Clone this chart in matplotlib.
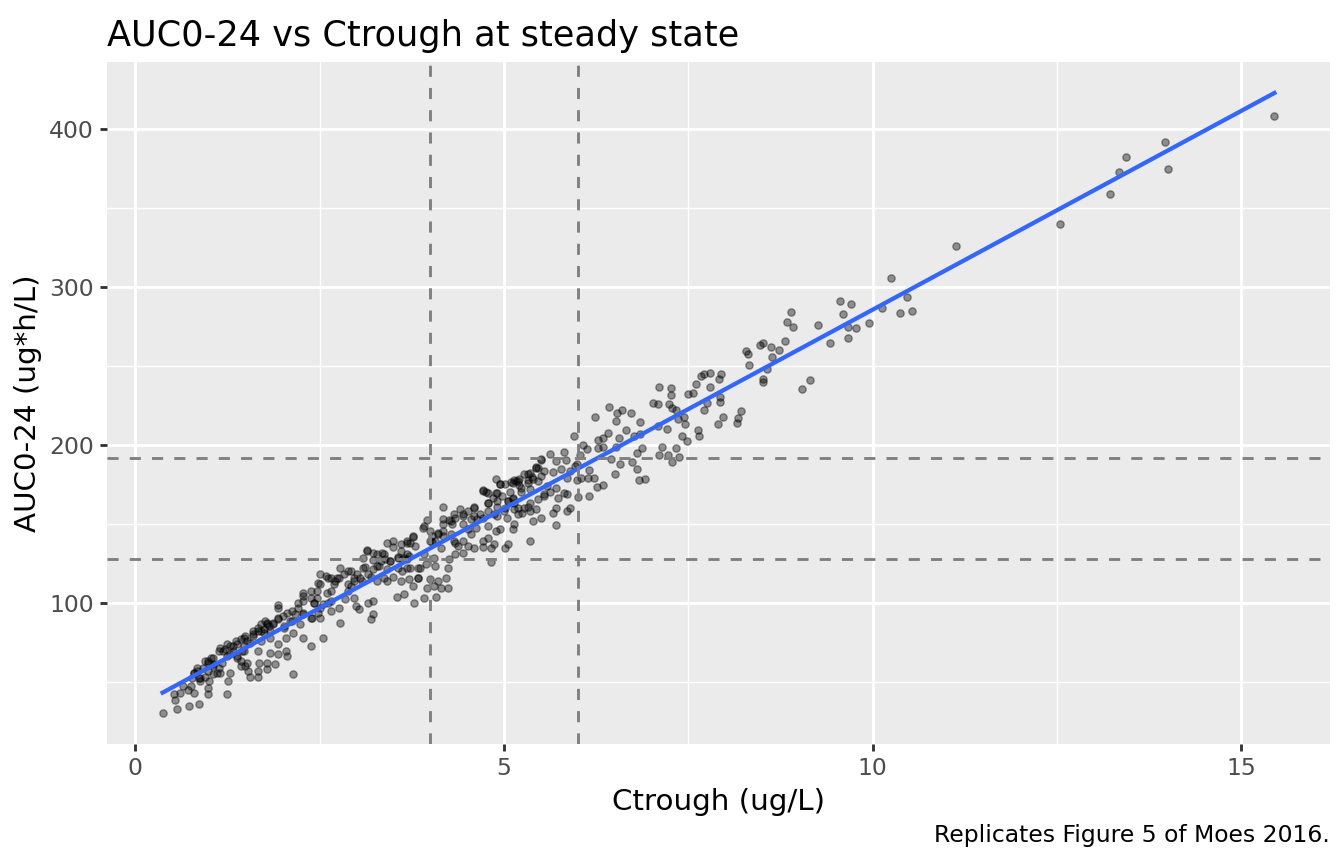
import matplotlib
matplotlib.use('Agg')
import matplotlib.pyplot as plt
import numpy as np

# steady-state trough concentration (ug/L)
ctrough = [
    # sparse high end
    15.45, 13.97, 14.01, 13.44, 13.34, 13.22, 12.54, 11.13, 10.25, 10.47,
    10.53, 10.37, 10.13, 9.95, 9.77, 9.66, 9.66, 9.56, 9.71, 9.60,
    9.42, 9.26, 9.15, 9.04, 8.89, 8.84, 8.92, 8.81, 8.73, 8.62,
    8.63, 8.52, 8.47, 8.28, 8.31, 8.33, 8.57, 8.51, 8.52, 8.21,
    # 6 - 8
    7.67, 7.71, 7.80, 7.95, 7.91, 7.60, 7.79, 7.10, 7.26, 7.26,
    7.49, 7.57, 7.93, 7.93, 7.76, 7.02, 7.09, 7.24, 7.28, 7.33,
    7.72, 7.97, 8.17, 8.16, 7.90, 6.43, 6.53, 6.60, 6.72, 6.24,
    6.52, 6.84, 7.36, 7.44, 7.45, 7.09, 7.21, 6.65, 6.41, 6.76,
    6.84, 6.56, 6.35, 6.27, 7.63, 7.64, 7.42, 7.48, 5.95, 6.12,
    6.27, 6.35, 6.52, 6.87, 6.81, 7.15, 7.34, 7.10, 7.23, 7.37,
    7.28, 6.73, 6.58, 6.81, 6.45, 6.50, 6.83, 6.91, 6.35, 6.26,
    6.15, 6.00, 5.82, 5.84, 6.03, 5.97, 5.90, 6.16, 6.22, 6.04,
    5.86, 5.99, 5.81, 5.85,
    # 4 - 6
    6.07, 5.62, 5.71, 5.50, 5.44, 5.54, 5.67, 5.78, 5.99, 6.14,
    5.32, 5.38, 5.46, 5.32, 5.19, 5.14, 5.20, 5.09, 4.89, 4.95,
    5.08, 5.23, 5.36, 5.58, 5.71, 5.62, 5.73, 5.54, 5.90, 5.71,
    5.85, 5.66, 5.70, 4.71, 4.76, 4.90, 4.97, 5.05, 5.12, 5.14,
    4.85, 4.78, 4.90, 5.02, 5.19, 5.24, 5.32, 5.36, 5.44, 5.50,
    5.39, 5.19, 5.04, 4.91, 5.14, 5.12, 4.95, 4.89, 4.78, 4.86,
    5.05, 5.02, 5.35, 4.79, 4.59, 4.78, 4.68, 4.64, 4.55, 4.45,
    4.41, 4.32, 4.18, 4.17, 4.25, 4.30, 4.44, 4.51, 4.62, 4.55,
    4.28, 4.18, 4.10, 4.45, 4.34, 4.06, 4.02, 4.82, 4.72, 5.43,
    4.83,
    # 2.7 - 4.7
    3.96, 3.91, 4.00, 4.02, 3.77, 3.73, 3.79, 3.68, 3.49, 3.49,
    3.61, 3.68, 3.56, 3.62, 3.69, 3.35, 3.23, 3.14, 3.09, 3.23,
    3.38, 3.46, 3.09, 3.30, 3.42, 3.56, 3.73, 3.71, 3.62, 3.50,
    3.37, 3.28, 3.19, 3.08, 2.96, 2.88, 2.83, 2.74, 2.69, 2.92,
    3.77, 3.84, 3.94, 3.86, 4.07, 4.00, 4.10, 4.05, 4.24, 4.21,
    4.25, 4.24, 4.14, 3.96, 4.34, 4.45, 4.51, 4.37, 4.32, 4.59,
    4.72, 3.78, 3.92, 4.08, 3.65, 3.55,
    # 1.3 - 3.4
    3.14, 3.28, 3.11, 3.01, 2.59, 2.48, 2.38, 2.47, 2.60, 2.65,
    2.54, 2.42, 2.27, 2.20, 2.28, 2.40, 2.51, 2.65, 2.76, 2.85,
    2.99, 3.03, 3.15, 3.23, 3.22, 3.19, 2.77, 2.54, 2.38, 2.27,
    2.14, 2.04, 2.01, 2.10, 1.87, 1.76, 1.70, 1.83, 1.93, 1.59,
    1.47, 1.36, 1.94, 2.06, 2.17, 3.42, 2.14, 2.65, 2.78, 2.51,
    # low end
    0.37, 0.57, 0.73, 0.86, 0.54, 0.52, 0.61, 0.71, 0.79, 0.75,
    0.65, 0.98, 0.99, 1.24, 0.88, 0.79, 0.86, 0.95, 1.05, 1.11,
    1.00, 0.98, 1.06, 1.18, 1.26, 1.28, 1.19, 1.29, 1.13, 1.33,
    1.38, 1.47, 1.52, 1.43, 1.53, 1.55, 1.60, 1.67, 1.68, 1.66,
    1.78, 1.67, 1.79, 1.90, 1.83, 1.93, 2.04, 2.06, 1.66, 1.79,
    1.93, 1.83, 2.01, 1.94, 1.25, 1.15, 1.02, 1.05, 0.84,
    # dense core, second pass
    1.70, 1.79, 1.66, 1.60, 1.49, 1.52, 1.43, 1.38, 1.29, 1.32,
    1.22, 1.25, 1.06, 0.99, 0.95, 0.92, 0.84, 0.79, 0.77, 1.47,
    1.56, 1.45, 1.43, 1.49, 1.38, 1.74, 1.70, 1.13, 1.15, 0.98,
    0.88,
    2.92, 2.76, 2.71, 2.61, 2.51, 2.47, 2.38, 2.28, 2.21, 2.13,
    2.00, 1.93, 1.87, 1.81, 1.74, 2.42, 2.51, 2.62, 2.28, 2.38,
    2.24, 2.13, 2.48, 2.88, 2.96, 2.65, 2.28,
    3.90, 4.00, 3.77, 3.69, 3.60, 3.56, 3.64, 3.71, 3.46, 3.37,
    3.33, 3.28, 3.22, 3.15, 3.05, 2.96, 2.88, 3.83, 3.91, 4.05,
    4.14, 4.10, 4.18, 3.69, 3.60, 3.42, 3.83,
    5.50, 5.46, 5.36, 5.27, 5.16, 5.20, 5.12, 5.02, 4.95, 4.89,
    4.78, 4.71, 4.79, 4.91, 5.05, 5.12, 5.23, 5.32, 5.40, 5.50,
    4.59, 4.51, 4.44, 4.34, 4.28, 4.18, 4.59, 4.72, 4.86, 5.00,
    5.13, 5.27, 5.36, 5.46, 5.54,
]

# AUC over 0-24 h (ug*h/L), same order as ctrough
auc = [
    408, 392, 375, 382, 373, 359, 340, 326, 306, 294,
    285, 283.5, 287, 277, 274, 275, 268, 291, 289, 283,
    264.5, 276, 241, 235.5, 284, 278, 275, 266, 260, 262,
    256, 264.5, 263, 259.5, 257.6, 250.6, 248, 242, 240, 221.5,
    243.7, 245, 245.6, 245, 241.8, 238.6, 236.7, 236.7, 236, 231.6,
    232, 233, 230.4, 227, 226.6, 226.6, 226, 226, 223.4, 222,
    222, 217.7, 217, 214, 213, 224, 220, 222, 220, 217.7,
    215, 214.6, 216.5, 217.7, 213, 212, 210, 209.5, 207.6, 205.7,
    207, 204.4, 204.4, 203, 209.5, 205.7, 205.7, 202.5, 206, 197.5,
    198, 198.7, 198.7, 198, 195, 198.7, 198, 194, 193.7, 192.4,
    189, 189, 188, 185, 191, 181.6, 178, 178.5, 175, 173.4,
    168, 167, 195.6, 190.5, 193.7, 186.7, 183.5, 184, 179, 179,
    179, 178, 169.6, 169,
    200, 194.3, 190, 190.5, 186, 183.5, 183, 184.8, 188, 179,
    181.6, 180, 177, 178, 177, 178, 174.7, 176.6, 178.5, 175.3,
    170, 170, 172, 174, 172.8, 170, 166.5, 169, 160, 160,
    158, 157, 149.4, 171.5, 170, 169.6, 168, 164.6, 165.8, 163.3,
    166.5, 163.3, 160.8, 160, 160, 157, 160.8, 158.2, 159.5, 153.8,
    152, 156.3, 153.8, 155, 150, 146.8, 146.8, 145.6, 141, 137.3,
    137.3, 134.8, 139, 148.7, 161, 158, 156.3, 153, 153, 155,
    159.5, 156.3, 160.8, 153, 152.5, 150, 150, 146.8, 147.5, 143.7,
    143.7, 142.4, 144.3, 139, 138, 139, 142.4, 134.8, 135.4, 185.5,
    126,
    152.5, 148.7, 145.6, 138.6, 141.8, 138, 136, 138, 139, 135.4,
    133, 131, 129, 127.8, 127.8, 131.6, 131.6, 133, 128.5, 127,
    127.8, 126.6, 122, 123.4, 121.5, 122, 122, 115, 120, 116.5,
    115.8, 114, 116.5, 114, 115.8, 120, 118.4, 115.8, 112, 110.8,
    110.8, 115.8, 124.7, 122, 123.4, 115, 114, 110.8, 122, 115.8,
    127.8, 109.5, 109.5, 109.5, 131, 131.6, 136, 136, 139, 134.8,
    139, 100, 103, 104, 106, 104,
    133.5, 131, 122.8, 118.4, 117, 112.7, 107.6, 103.2, 106.3, 101.3,
    99.4, 100, 101.3, 96.8, 93.7, 90.5, 90.5, 95, 96.8, 102.5,
    98, 96.2, 100, 101.3, 93, 89.9, 87.3, 77.8, 72.8, 77.8,
    81, 77.8, 85.4, 88.6, 86.7, 88.6, 82.3, 77.8, 74, 82.3,
    77.8, 76, 96.8, 93.7, 93, 138, 55, 115.8, 122, 118.4,
    30.4, 33, 34.8, 36, 38.6, 42.4, 43, 45, 43, 47.5,
    47.5, 42.4, 46.2, 42.4, 50.6, 55.7, 52.5, 53, 55, 55.7,
    50.6, 63.3, 61.4, 62, 50.6, 55.7, 69.6, 67.7, 69.6, 72.8,
    66.5, 69.6, 62, 60, 57, 53, 80.4, 69.6, 62, 57,
    58, 53, 62, 61.4, 68.4, 67.7, 69.6, 66.5, 84.2, 86.7,
    90.5, 82.3, 84.2, 98.7, 74, 71.5, 65, 60, 58.9,
    86.7, 87.3, 82, 79, 79, 76, 77, 74, 72.8, 69.6,
    71, 66.5, 65, 62, 63.3, 58.9, 57, 55.7, 52.5, 72.8,
    74.7, 69.6, 63.3, 60, 65, 81, 76, 58.9, 55.7, 57,
    52.5,
    120, 115.8, 114, 115.8, 112, 107.6, 103.2, 104.4, 100, 95,
    91.8, 89.9, 87.3, 85.4, 83.5, 100, 96.8, 100, 93, 90.5,
    86.7, 88.6, 93.7, 107.6, 103.2, 107.6, 106.3,
    147.5, 139, 142.4, 139, 137.3, 128.5, 128.5, 129.7, 126.6, 131,
    126.6, 123.4, 121.5, 118.4, 115.8, 114, 112, 122, 131, 128.5,
    134.8, 143.7, 145.6, 122, 114, 114, 115.8,
    191, 185.5, 182.3, 181.6, 177.2, 178.5, 176, 175.3, 175.3, 169.6,
    169.6, 171, 163.3, 164.6, 164.6, 166.5, 172.8, 176, 178.5, 180.4,
    160, 158.2, 156.3, 153.8, 152, 150, 155, 153.8, 156.3, 158.2,
    159.5, 160, 163.3, 165.8, 167.7,
]

ctrough_targets = [4, 6]
auc_targets = [128, 192]
x_ticks = [0, 5, 10, 15]
y_ticks = [100, 200, 300, 400]

x = np.array(ctrough)
y = np.array(auc)

# linear fit, like geom_smooth(method = "lm", se = FALSE)
slope, intercept = np.polyfit(x, y, 1)
x_fit = np.linspace(x.min(), x.max(), 80)
y_fit = intercept + slope * x_fit


def expand(lo, hi, frac=0.05):
    pad = (hi - lo) * frac
    return lo - pad, hi + pad


fig = plt.figure(figsize=(7, 4.5), dpi=192)
ax = fig.add_axes([107 / 1344, 1 - 744 / 864, (1330 - 107) / 1344, (744 - 62) / 864])
ax.set_facecolor('#EBEBEB')
for s in ax.spines.values():
    s.set_visible(False)

ax.set_xlim(*expand(x.min(), x.max()))
ax.set_ylim(*expand(min(y.min(), y_fit.min()), max(y.max(), y_fit.max())))

ax.set_xticks(x_ticks)
ax.set_yticks(y_ticks)
ax.set_xticks([2.5, 7.5, 12.5], minor=True)
ax.set_yticks([50, 150, 250, 350], minor=True)
ax.set_axisbelow(True)
ax.grid(which='major', color='white', lw=1.07)
ax.grid(which='minor', color='white', lw=0.53)
ax.tick_params(which='major', length=2.75, width=1.07, color='#333333',
               labelcolor='#4D4D4D', labelsize=8.8, pad=2.2)
ax.tick_params(which='minor', length=0)

ax.scatter(x, y, s=7.5, c='black', alpha=0.4, edgecolors='black',
           linewidths=0.5, zorder=2)
ax.plot(x_fit, y_fit, color='#3366FF', lw=1.6, zorder=3)

for v in ctrough_targets:
    ax.axvline(v, color='#7F7F7F', lw=1.07, dashes=(3.9, 3.9), zorder=4)
for h in auc_targets:
    ax.axhline(h, color='#7F7F7F', lw=1.07, dashes=(3.9, 3.9), zorder=4)

ax.set_xlabel('Ctrough (ug/L)', fontsize=11, labelpad=2.75)
ax.set_ylabel('AUC0-24 (ug*h/L)', fontsize=11, labelpad=2.75)
ax.set_title('AUC0-24 vs Ctrough at steady state', loc='left',
             fontsize=13.2, pad=6)
fig.text(1330 / 1344, 1 - 842 / 864, 'Replicates Figure 5 of Moes 2016.',
         ha='right', va='baseline', fontsize=8.8)

fig.savefig('out.png', dpi=192)
